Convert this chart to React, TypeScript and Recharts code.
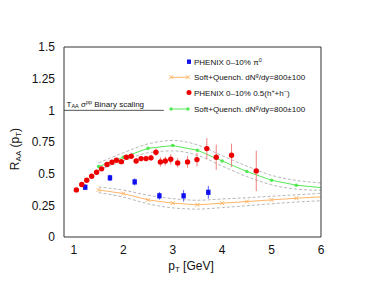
import React from 'react';
import { ComposedChart, XAxis, YAxis, Line, Scatter, ErrorBar, ReferenceLine } from 'recharts';

// PHENIX 0-10% pi0
const pi0Pt = [1.23, 1.73, 2.23, 2.73, 3.22, 3.72];
const pi0Raa = [0.393, 0.467, 0.435, 0.325, 0.325, 0.353];
const pi0Err = [0.022, 0.026, 0.028, 0.03, 0.045, 0.05];

// PHENIX 0-10% 0.5(h+ + h-)
const hPt = [1.05, 1.16, 1.26, 1.36, 1.46, 1.56, 1.67, 1.77, 1.86, 1.96, 2.06, 2.16, 2.26, 2.36, 2.46, 2.56, 2.66, 2.75, 2.85, 2.96, 3.1, 3.3, 3.49, 3.69, 3.88, 4.19, 4.69];
const hRaa = [0.372, 0.414, 0.448, 0.48, 0.511, 0.538, 0.572, 0.59, 0.606, 0.595, 0.63, 0.637, 0.6, 0.619, 0.619, 0.625, 0.669, 0.593, 0.6, 0.614, 0.585, 0.593, 0.611, 0.698, 0.63, 0.645, 0.522];
const hErr = [0.006, 0.006, 0.007, 0.007, 0.008, 0.008, 0.009, 0.01, 0.011, 0.012, 0.014, 0.016, 0.022, 0.02, 0.022, 0.024, 0.029, 0.037, 0.035, 0.04, 0.037, 0.046, 0.053, 0.083, 0.1, 0.092, 0.16];

// Soft+Quench model curves
const modelPt = [1.5, 2, 2.5, 3, 3.5, 4, 4.5, 5, 5.5, 6];
const pi0Model = [0.372, 0.343, 0.293, 0.267, 0.254, 0.267, 0.28, 0.293, 0.306, 0.317];
const pi0ModelUp = [0.395, 0.37, 0.33, 0.303, 0.29, 0.3, 0.31, 0.322, 0.333, 0.345];
const pi0ModelLo = [0.35, 0.315, 0.262, 0.23, 0.22, 0.232, 0.247, 0.262, 0.276, 0.286];
const hModel = [0.556, 0.63, 0.7, 0.722, 0.685, 0.6, 0.517, 0.448, 0.409, 0.39];
const hModelUp = [0.585, 0.665, 0.735, 0.762, 0.727, 0.642, 0.56, 0.487, 0.447, 0.427];
const hModelLo = [0.53, 0.6, 0.665, 0.68, 0.645, 0.56, 0.477, 0.412, 0.378, 0.368];

// Binary scaling reference
const binaryLevel = 1;
const binaryFrom = 0.8;
const binaryTo = 2.82;

const xDomain = [0.8, 6];
const yDomain = [0, 1.5];
const xTicks = [1, 2, 3, 4, 5, 6];
const xMinorTicks = [1, 1.5, 2, 2.5, 3, 3.5, 4, 4.5, 5, 5.5, 6];
const yTicks = [0, 0.25, 0.5, 0.75, 1, 1.25, 1.5];
const yMinorTicks = [0, 0.125, 0.25, 0.375, 0.5, 0.625, 0.75, 0.875, 1, 1.125, 1.25, 1.375, 1.5];

const pi0Data = pi0Pt.map((x, i) => ({ x, y: pi0Raa[i], e: pi0Err[i] }));
const hData = hPt.map((x, i) => ({ x, y: hRaa[i], e: hErr[i] }));
const mk = (ys: number[]) => modelPt.map((x, i) => ({ x, y: ys[i] }));

const FONT = "'Liberation Sans', Arial, Helvetica, sans-serif";
const AX = '#333';
const ORANGE = '#ffb567';
const GREEN = '#55e855';
const RED = '#ee0000';
const BLUE = '#1010ee';
const BAND = '#b8b8b8';
const THIN = 0.01;

const crossDot = (p: any) => {
  const { cx, cy, index } = p;
  if (index >= modelPt.length - 1 || cx == null) return <g key={`c${index}`} />;
  return (
    <path key={`c${index}`} d={`M${cx - 2},${cy - 2}L${cx + 2},${cy + 2}M${cx - 2},${cy + 2}L${cx + 2},${cy - 2}`} stroke={ORANGE} strokeWidth={1} />
  );
};
const greenDot = (p: any) => {
  const { cx, cy, index } = p;
  if (index >= modelPt.length - 1 || cx == null) return <g key={`g${index}`} />;
  return <circle key={`g${index}`} cx={cx} cy={cy} r={1.8} fill={GREEN} />;
};

const redShape = (p: any) => <circle cx={p.cx} cy={p.cy} r={2.7} fill={RED} />;
const blueShape = (p: any) => <rect x={p.cx - 2.2} y={p.cy - 2.6} width={4.4} height={5.2} fill={BLUE} />;

const tickFont = { fontFamily: FONT, fontSize: 12, fill: '#111' };

export default function App() {
  return (
    <div style={{ position: 'relative', width: 377, height: 288 }}>
      <ComposedChart width={377} height={288} margin={{ top: 39, right: 64, bottom: 0, left: 0 }}>
        <XAxis xAxisId={0} dataKey="x" type="number" domain={xDomain} ticks={xTicks} interval={0} allowDataOverflow
          tickLine={false} tickSize={0} tickMargin={8} axisLine={{ stroke: AX }} height={59} tick={tickFont} />
        <XAxis xAxisId="bmin" type="number" domain={xDomain} ticks={xMinorTicks} interval={0} allowDataOverflow height={THIN}
          orientation="bottom" mirror tick={false} tickSize={3} tickLine={{ stroke: AX }} axisLine={false} />
        <XAxis xAxisId="bmaj" type="number" domain={xDomain} ticks={xTicks} interval={0} allowDataOverflow height={THIN}
          orientation="bottom" mirror tick={false} tickSize={4} tickLine={{ stroke: AX }} axisLine={false} />
        <XAxis xAxisId="tmin" type="number" domain={xDomain} ticks={xMinorTicks} interval={0} allowDataOverflow height={THIN}
          orientation="top" mirror tick={false} tickSize={3} tickLine={{ stroke: AX }} axisLine={{ stroke: AX }} />
        <XAxis xAxisId="tmaj" type="number" domain={xDomain} ticks={xTicks} interval={0} allowDataOverflow height={THIN}
          orientation="top" mirror tick={false} tickSize={4} tickLine={{ stroke: AX }} axisLine={false} />

        <YAxis yAxisId={0} type="number" domain={yDomain} ticks={yTicks} interval={0} allowDataOverflow width={56}
          tickLine={false} tickSize={0} tickMargin={9} axisLine={{ stroke: AX }} tick={tickFont} />
        <YAxis yAxisId="lmin" type="number" domain={yDomain} ticks={yMinorTicks} interval={0} allowDataOverflow width={THIN}
          orientation="left" mirror tick={false} tickSize={3} tickLine={{ stroke: AX }} axisLine={false} />
        <YAxis yAxisId="lmaj" type="number" domain={yDomain} ticks={yTicks} interval={0} allowDataOverflow width={THIN}
          orientation="left" mirror tick={false} tickSize={4} tickLine={{ stroke: AX }} axisLine={false} />
        <YAxis yAxisId="rmin" type="number" domain={yDomain} ticks={yMinorTicks} interval={0} allowDataOverflow width={THIN}
          orientation="right" mirror tick={false} tickSize={3} tickLine={{ stroke: AX }} axisLine={{ stroke: AX }} />
        <YAxis yAxisId="rmaj" type="number" domain={yDomain} ticks={yTicks} interval={0} allowDataOverflow width={THIN}
          orientation="right" mirror tick={false} tickSize={4} tickLine={{ stroke: AX }} axisLine={false} />

        <ReferenceLine segment={[{ x: binaryFrom, y: binaryLevel }, { x: binaryTo, y: binaryLevel }]} stroke="#555" strokeWidth={1} />

        <Line data={mk(hModelUp)} dataKey="y" type="monotone" stroke={BAND} strokeDasharray="3 2" strokeWidth={1} dot={false} isAnimationActive={false} />
        <Line data={mk(hModelLo)} dataKey="y" type="monotone" stroke={BAND} strokeDasharray="3 2" strokeWidth={1} dot={false} isAnimationActive={false} />
        <Line data={mk(pi0ModelUp)} dataKey="y" type="monotone" stroke={BAND} strokeDasharray="3 2" strokeWidth={1} dot={false} isAnimationActive={false} />
        <Line data={mk(pi0ModelLo)} dataKey="y" type="monotone" stroke={BAND} strokeDasharray="3 2" strokeWidth={1} dot={false} isAnimationActive={false} />
        <Line data={mk(pi0Model)} dataKey="y" type="linear" stroke={ORANGE} strokeWidth={1} dot={crossDot} isAnimationActive={false} />
        <Line data={mk(hModel)} dataKey="y" type="linear" stroke={GREEN} strokeWidth={1} dot={greenDot} isAnimationActive={false} />

        <Scatter data={pi0Data} dataKey="y" shape={blueShape} isAnimationActive={false}>
          <ErrorBar dataKey="e" direction="y" width={0} stroke="#5a5aff" strokeWidth={1} />
        </Scatter>
        <Scatter data={hData} dataKey="y" shape={redShape} isAnimationActive={false}>
          <ErrorBar dataKey="e" direction="y" width={0} stroke="#f08080" strokeWidth={1} />
        </Scatter>
      </ComposedChart>

      <svg width={377} height={288} style={{ position: 'absolute', left: 0, top: 0, pointerEvents: 'none' }} fontFamily={FONT}>
        {/* binary scaling label */}
        <text x={58.5} y={98.5} fontSize={8} fill="#111">
          T<tspan fontSize={5.5} dy={1.5}>AA</tspan>
          <tspan dy={-1.5}> σ</tspan><tspan fontSize={5.5} dy={-3}>pp</tspan>
          <tspan dy={3}> Binary scaling</tspan>
        </text>

        {/* legend */}
        <rect x={179} y={51.5} width={4} height={4.4} fill={BLUE} />
        <text x={186} y={56.5} fontSize={8} fill="#111">PHENIX 0–10% π<tspan fontSize={5.5} dy={-3}>0</tspan></text>

        <line x1={163} y1={69.3} x2={180} y2={69.3} stroke={ORANGE} strokeWidth={1} />
        <path d="M161,67.3L165,71.3M161,71.3L165,67.3M178,67.3L182,71.3M178,71.3L182,67.3" stroke={ORANGE} strokeWidth={1} />
        <text x={186} y={72.3} fontSize={8} fill="#111">Soft+Quench. dN<tspan fontSize={5.5} dy={-3}>g</tspan><tspan dy={3}>/dy=800±100</tspan></text>

        <circle cx={181} cy={84.5} r={2.5} fill={RED} />
        <text x={186} y={87.5} fontSize={8} fill="#111">PHENIX 0–10% 0.5(h<tspan fontSize={5.5} dy={-3}>+</tspan><tspan dy={3}>+h</tspan><tspan fontSize={5.5} dy={-3}>−</tspan><tspan dy={3}>)</tspan></text>

        <line x1={163} y1={101} x2={180} y2={101} stroke={GREEN} strokeWidth={1} />
        <circle cx={163} cy={101} r={1.7} fill={GREEN} />
        <circle cx={180} cy={101} r={1.7} fill={GREEN} />
        <text x={186} y={104} fontSize={8} fill="#111">Soft+Quench. dN<tspan fontSize={5.5} dy={-3}>g</tspan><tspan dy={3}>/dy=800±100</tspan></text>

        {/* axis titles */}
        <text x={183} y={262} fontSize={12} fill="#111" textAnchor="middle">
          p<tspan fontSize={8} dy={2}>T</tspan><tspan dy={-2}> [GeV]</tspan>
        </text>
        <text x={10.5} y={141} fontSize={12} fill="#111" textAnchor="middle" transform="rotate(-90 10.5 141)">
          R<tspan fontSize={8} dy={2}>AA</tspan><tspan dy={-2}> (p</tspan><tspan fontSize={8} dy={2}>T</tspan><tspan dy={-2}>)</tspan>
        </text>
      </svg>
    </div>
  );
}
